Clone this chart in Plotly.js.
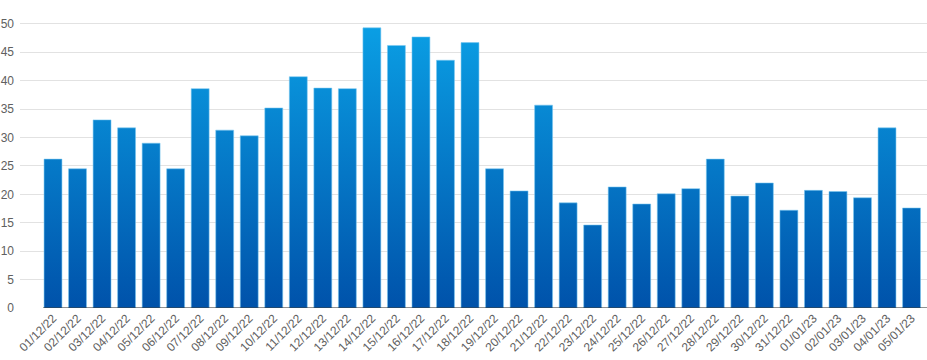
<!DOCTYPE html>
<html>
<head>
<meta charset="utf-8">
<script src="https://cdn.plot.ly/plotly-3.0.1.min.js"></script>
<style>html,body{margin:0;padding:0;background:#fff;}#chart{width:927px;height:360px;}</style>
</head>
<body>
<div id="chart"></div>
<script>
const dates = ["01/12/22","02/12/22","03/12/22","04/12/22","05/12/22","06/12/22","07/12/22","08/12/22","09/12/22","10/12/22","11/12/22","12/12/22","13/12/22","14/12/22","15/12/22","16/12/22","17/12/22","18/12/22","19/12/22","20/12/22","21/12/22","22/12/22","23/12/22","24/12/22","25/12/22","26/12/22","27/12/22","28/12/22","29/12/22","30/12/22","31/12/22","01/01/23","02/01/23","03/01/23","04/01/23","05/01/23"];
const values = [26.2,24.5,33.1,31.7,29.0,24.5,38.6,31.3,30.3,35.2,40.7,38.7,38.6,49.3,46.2,47.7,43.6,46.7,24.5,20.6,35.7,18.5,14.6,21.3,18.3,20.1,21.0,26.2,19.7,22.0,17.2,20.7,20.5,19.4,31.7,17.6];
const yTicks = [0,5,10,15,20,25,30,35,40,45,50];

const trace = {
  type: 'bar',
  x: dates.map((d,i)=>i),
  y: values,
  width: 0.73,
  marker: {color: '#0070c4', line: {color: 'rgba(120,200,240,0.7)', width: 0.8}},
  hoverinfo: 'x+y'
};
const layout = {
  width: 927, height: 360,
  margin: {l: 20, r: 0, t: 0, b: 52},
  paper_bgcolor: '#fff', plot_bgcolor: '#fff',
  font: {family: 'Liberation Sans, Arial, sans-serif', size: 12, color: '#606060'},
  showlegend: false,
  xaxis: {
    range: [-1.345, 35.63],
    tickmode: 'array',
    tickvals: dates.map((d,i)=>i),
    ticktext: dates,
    tickangle: -45,
    showgrid: false, zeroline: false, showline: false,
    ticks: '', tickfont: {size: 12, color: '#606060'}
  },
  yaxis: {
    range: [0, 54.2],
    tickmode: 'array', tickvals: yTicks, ticktext: yTicks.map(String),
    showgrid: true, gridcolor: '#e2e2e2', gridwidth: 1,
    zeroline: false, showline: false, ticks: '',
    ticklabelstandoff: 5,
    tickfont: {size: 12, color: '#606060'}
  },
  shapes: [{type: 'line', xref: 'x', yref: 'y', x0: -0.4, x1: 35.63, y0: 0, y1: 0, line: {color: '#222', width: 1}}]
};
function applyGradient(gd){
  const svg = gd.querySelector('.main-svg');
  if(!svg) return;
  let defs = svg.querySelector('defs');
  if(!defs){ defs = document.createElementNS('http://www.w3.org/2000/svg','defs'); svg.insertBefore(defs, svg.firstChild); }
  let g = defs.querySelector('#barGrad');
  const h = gd._fullLayout._size.h;
  if(!g){
    g = document.createElementNS('http://www.w3.org/2000/svg','linearGradient');
    g.setAttribute('id','barGrad');
    g.setAttribute('gradientUnits','userSpaceOnUse');
    const stops = [[0,'#0aa6ea'],[0.12,'#0a9ce2'],[1,'#0052aa']];
    stops.forEach(s=>{
      const st = document.createElementNS('http://www.w3.org/2000/svg','stop');
      st.setAttribute('offset', s[0]); st.setAttribute('stop-color', s[1]);
      g.appendChild(st);
    });
    defs.appendChild(g);
  }
  g.setAttribute('x1','0'); g.setAttribute('x2','0');
  g.setAttribute('y1','0'); g.setAttribute('y2', String(h));
  gd.querySelectorAll('.barlayer .point path').forEach(p=>{ p.style.fill = 'url(#barGrad)'; });
}
const gd = document.getElementById('chart');
Plotly.newPlot(gd, [trace], layout, {displayModeBar: false, staticPlot: true}).then(()=>{
  applyGradient(gd);
  gd.on && gd.on('plotly_afterplot', ()=>applyGradient(gd));
});
</script>
</body>
</html>
